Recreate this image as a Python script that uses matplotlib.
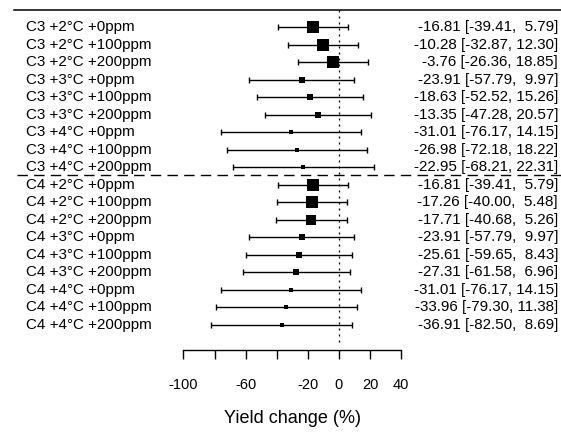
import numpy as np
import matplotlib.pyplot as plt

plt.rcParams['font.family'] = ['Liberation Sans', 'DejaVu Sans']

# Yield change estimates with 95% CI per pathway / warming / CO2 scenario
labels = [
    'C3 +2°C +0ppm', 'C3 +2°C +100ppm', 'C3 +2°C +200ppm',
    'C3 +3°C +0ppm', 'C3 +3°C +100ppm', 'C3 +3°C +200ppm',
    'C3 +4°C +0ppm', 'C3 +4°C +100ppm', 'C3 +4°C +200ppm',
    'C4 +2°C +0ppm', 'C4 +2°C +100ppm', 'C4 +2°C +200ppm',
    'C4 +3°C +0ppm', 'C4 +3°C +100ppm', 'C4 +3°C +200ppm',
    'C4 +4°C +0ppm', 'C4 +4°C +100ppm', 'C4 +4°C +200ppm',
]
est = [-16.81, -10.28, -3.76, -23.91, -18.63, -13.35, -31.01, -26.98, -22.95,
       -16.81, -17.26, -17.71, -23.91, -25.61, -27.31, -31.01, -33.96, -36.91]
ci_lo = [-39.41, -32.87, -26.36, -57.79, -52.52, -47.28, -76.17, -72.18, -68.21,
         -39.41, -40.00, -40.68, -57.79, -59.65, -61.58, -76.17, -79.30, -82.50]
ci_hi = [5.79, 12.30, 18.85, 9.97, 15.26, 20.57, 14.15, 18.22, 22.31,
         5.79, 5.48, 5.26, 9.97, 8.43, 6.96, 14.15, 11.38, 8.69]
xticks = [-100, -80, -60, -40, -20, 0, 20, 40]
xtick_labels = ['-100', '', '-60', '', '-20', '0', '20', '40']

est = np.array(est)
lo = np.array(ci_lo)
hi = np.array(ci_hi)
rows = np.arange(len(labels))

# box size from inverse-variance weights, rescaled to 0.5..1.5
se = (hi - lo) / (2 * 1.96)
w = 1 / se**2
psize = (w - w.min()) / (w.max() - w.min()) + 0.5

fig = plt.figure(figsize=(5.61, 4.33), dpi=100)
ax = fig.add_axes([0, 0, 1, 1])
ax.set_xlim(-218.0, 142.8)
ax.set_ylim(23.18, -1.56)
ax.axis('off')

fs = 10.9

# top rule, group separator and reference line
ax.plot([-209, 142.8], [-0.98, -0.98], color='black', lw=1.1)
ax.plot([-207, 142.8], [8.46, 8.46], color='black', lw=1.0, dashes=(7.5, 4.5))
ax.plot([0, 0], [-0.98, 18.2], color='black', lw=0.9, dashes=(1.6, 3.2))

# confidence intervals with end caps
ax.hlines(rows, lo, hi, color='black', lw=1.0)
ax.vlines(lo, rows - 0.18, rows + 0.18, color='black', lw=1.0)
ax.vlines(hi, rows - 0.18, rows + 0.18, color='black', lw=1.0)
for r, e, p in zip(rows, est, psize):
    ax.plot(e, r, marker='s', color='black', markersize=p * 5.4, markeredgewidth=0)

for r, lab in zip(rows, labels):
    ax.text(-201.3, r, lab, ha='left', va='center', fontsize=fs)
for r, e, a, b in zip(rows, est, lo, hi):
    ax.text(140.9, r, f'{e:.2f} [{a:.2f}, {b:5.2f}]', ha='right', va='center',
            fontsize=fs)

# x axis
ax.plot([xticks[0], xticks[-1]], [18.43, 18.43], color='black', lw=1.0)
ax.vlines(xticks, 18.43, 18.95, color='black', lw=1.0)
for t, tl in zip(xticks, xtick_labels):
    ax.text(t, 20.44, tl, ha='center', va='center', fontsize=10.5)
ax.text((xticks[0] + xticks[-1]) / 2, 22.36, 'Yield change (%)', ha='center',
        va='center', fontsize=13)

fig.savefig('out.png', dpi=100)
